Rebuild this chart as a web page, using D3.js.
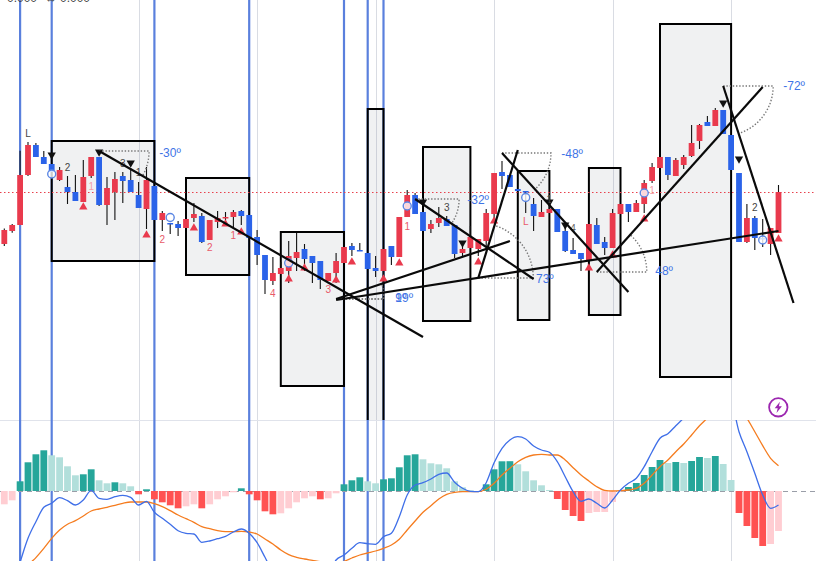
<!DOCTYPE html>
<html><head><meta charset="utf-8">
<script src="https://cdn.jsdelivr.net/npm/d3@7"></script>
<style>html,body{margin:0;padding:0;background:#fff;overflow:hidden}svg{display:block}</style>
</head><body><svg id="c" width="816" height="561"></svg>
<script>
const opens=[176,189,195,245,275,263,256,240,233,228,218,244,263,215,228,244,240,225,211,234,200,197,196,192,202,204,180,198,202,203,209,205,183,165,139,146,149,162,171,164,159,139,147,157,174,170,167,152,149,174,163,203,225,208,191,197,201,195,167,172,171,179,206,248,245,231,229,216,203,207,211,189,170,167,160,195,178,172,206,216,208,216,239,252,263,244,255,264,279,298,294,310,285,247,178,202,182,176,187];
const closes=[190,195,245,275,263,256,248,250,228,219,243,263,215,232,241,239,228,212,240,200,207,196,192,201,206,178,200,202,203,208,204,182,165,140,147,152,164,168,161,157,140,147,159,173,170,169,151,149,171,163,203,225,206,189,196,202,194,166,171,183,181,207,247,244,233,229,228,204,208,211,188,169,166,161,196,176,172,207,216,208,217,237,253,263,245,260,263,277,295,294,310,286,250,178,202,182,181,192,228];
const highs=[191.5,196,269.3,278,277,269,256,253,244,245,260,263,263,243,248,248,252,238,253,234,209,197,199,201,217,207,200,209,208,210,210,205,190,165,163,158,179,187,176,164,159,147,167,173,177,177,167,164,171,174,203,230,227,208,200,213,204,195,174,194,181,211,247,259,245,231,229,222,220,216,211,196,182,167,196,202,183,211,216,216,220,240,257,263,263,262,265,295,296,304,312,310,285,247,216,204,201,192,235];
const lows=[174,187.3,195,244,263,256,248,239,216,219,218,242,214,195,200,217,228,212,191,200,189,186,184,192,198,177,180,192,195,193,195,182,155,126,135,146,137,149,149,137,131,139,137,157,164,169,151,143,143,155,163,203,206,189,187,193,194,162,163,172,164,173,197,231,233,229,207,189,203,207,188,168,166,149,160,176,165,172,206,198,208,207,237,252,240,244,251,263,271,294,294,286,250,178,177,170,173,165,187];
const hist=[-13.3,-9.3,9.7,28.7,36.7,40.7,35.7,33.7,24.7,15.7,16.7,21.7,10.7,7.7,8.7,7.7,4.7,-3.3,1.7,-8.3,-11.3,-14.3,-17.3,-15.3,-13.3,-17.3,-13.3,-8.3,-5.3,-1.3,2.7,-3.3,-9.3,-20.3,-23.3,-22.3,-17.3,-11.3,-7.3,-5.3,-8.3,-7.3,-2.3,6.7,10.7,13.7,9.7,7.7,11.7,12.7,23.7,35.7,36.7,31.7,27.7,26.7,22.7,9.7,3.7,0.7,-0.9,6.7,21.7,29.7,29.8,26.7,19.7,10.7,5.7,1,-8,-19,-25,-30,-22,-21,-21,-11,-0.5,4,8,16,24,31,28,29,28,30,34,33,35,27,11,-22,-35,-47,-55,-53,-40];
const dif=[-105,-95,-71,-47.3,-30.7,-16.3,-12.3,-6.7,-9.7,-14,-9,0.7,-7.3,-8.3,-5.7,-4.3,-6.3,-14,-10.3,-21.3,-27.3,-33.3,-39.7,-42.3,-43,-51.3,-50,-47.7,-45.3,-41,-38,-42.3,-51.7,-66.3,-81,-88,-92,-94,-93,-92,-90,-85,-69,-64,-57.3,-51.7,-52.7,-53.3,-45.7,-42.3,-25.7,-4,6,8.3,12,16.7,18,8.7,2.7,-0.3,-0.7,8.3,28.3,42.7,51,54.3,52,45,41,38.7,29.3,14.3,-0.7,-10.3,-8,-12.3,-17,-9,1,7.7,12.7,24.3,39.3,52.7,57.3,65.3,73.3,86,96,99,101,96,90,59.3,39.3,17.7,-4,-17.3,-14];
const dea=[-125,-112,-98,-75.7,-66.7,-57.3,-47.3,-39,-33.3,-29.7,-25,-20,-18,-16.3,-14.3,-12.3,-11,-11,-11,-12.7,-15.7,-19.7,-24,-27.7,-31.3,-35.7,-37.7,-39.7,-40.7,-40.7,-40.3,-41,-43,-48,-53,-59,-63.7,-66.3,-68,-69.3,-70.7,-71.7,-71.7,-70.3,-67,-64,-62,-60,-57.3,-54,-48.3,-39,-30,-21.3,-14.7,-8,-3.3,-1.3,-0.7,-0.7,-0.7,1.7,7.7,16,22.7,29.3,33.7,36,36.7,36,36,31,23.3,16,10,4.3,0.7,0,0.3,1,2.7,7.7,16,24.3,31,39.3,47,56,65.3,73,81,86,89,83,72.7,59.3,45.3,32.7,25.3];
const blueBars=[2,6,19,31,43,46,48];
const gridBars=[17,32,47,62,77,92];
const boxes=[[6,19,279,159],[23,31,242,145],[35,43,188,34],[46,48,311,-10],[53,59,273,99],[65,69,249,100],[74,78,252,105],[83,92,396,43]];
const trends=[[12,269,53,83],[42,121,64,179],[42,120,98,189],[52,221,67,141],[60,142,65,270],[63,267,79,128],[75,148,96,333],[91,334,99.9,117]];
const angleMarks=[[12,269,50,-30],[42,121,48,19],[42,121,48,9],[52,221,44,-32],[60,142,55,73],[63,267,49,-48],[75,148,50,48],[91,334,50,-72]];
const angleLabels=[["-30º",19.6,267],["19º",49.5,122],["9º",49.5,122],["-32º",58.6,220],["73º",67.3,141],["-48º",70.5,266],["48º",82.4,149],["-72º",98.6,334]];
const upMarks=[[10,213],[18,185],[24,192],[28,196],[30,188],[36,141],[38,152],[42,140],[44,158],[48,141],[50,157],[60,158],[62,199],[74,152],[77,165],[81,201],[98,181]];
const downMarks=[[6,265],[12,268],[16,257],[53,218],[58,177],[69,218],[71,195],[91,317],[93,261]];
const circleBars=[[6,246],[21,202.5],[36,157],[51,214],[66,222.5],[81,227],[96,180]];
const waveLabels=[["L",3,287,"#444"],["2",8,253,"#444"],["3",15,257,"#444"],["1",17,248,"#444"],["3",56,213,"#444"],["1",69,221,"#444"],["4",72,192,"#666"],["2",95,213,"#444"],
["1",11,234,"#f2a0aa"],["2",20,181,"#e85a6a"],["2",26,173,"#e85a6a"],["1",29,185,"#e85a6a"],["4",34,127,"#e85a6a"],["3",41,131,"#e85a6a"],["1",51,194,"#e85a6a"],["L",66,199,"#e85a6a"],["1",82,230,"#f2a0aa"]];

const W=816,H=561,paneY=420;
const x=d3.scaleLinear().domain([0,98]).range([4.3,778.5]);
const y=d3.scaleLinear().domain([0,420]).range([420,0]);
const m=d3.scaleLinear().domain([-70,71]).range([561,420]);
const svg=d3.select("#c");
const defs=svg.append("defs");
defs.append("clipPath").attr("id","topClip").append("rect").attr("width",W).attr("height",paneY);
defs.append("clipPath").attr("id","botClip").append("rect").attr("y",paneY).attr("width",W).attr("height",H-paneY);
const font="'Liberation Sans',Arial,sans-serif";

svg.append("g").selectAll("line").data(gridBars).join("line")
 .attr("x1",d=>Math.round(x(d))+.5).attr("x2",d=>Math.round(x(d))+.5).attr("y1",0).attr("y2",H)
 .attr("stroke","#d9dce3").attr("stroke-width",1);
svg.append("line").attr("x1",0).attr("x2",W).attr("y1",paneY+.5).attr("y2",paneY+.5).attr("stroke","#e0e3eb");
svg.append("g").selectAll("line").data(blueBars).join("line")
 .attr("x1",d=>x(d)).attr("x2",d=>x(d)).attr("y1",0).attr("y2",H)
 .attr("stroke","#5a80dd").attr("stroke-width",2.2);

const pane=svg.append("g").attr("clip-path","url(#topClip)");
pane.append("g").selectAll("rect").data(boxes).join("rect")
 .attr("x",d=>x(d[0])).attr("width",d=>x(d[1])-x(d[0]))
 .attr("y",d=>y(d[2])).attr("height",d=>y(d[3])-y(d[2]))
 .attr("fill","rgba(120,123,134,0.11)").attr("stroke","#000").attr("stroke-width",2);
pane.append("line").attr("x1",0).attr("x2",W).attr("y1",192.5).attr("y2",192.5)
 .attr("stroke","#e8404c").attr("stroke-width",1).attr("stroke-dasharray","1.5 2.5");

const RED="#e93a4d",BLUE="#2b63e9";
const cg=pane.append("g");
opens.forEach((o,i)=>{
  const c=closes[i],col=c>=o?RED:BLUE,g=cg.append("g");
  g.append("line").attr("x1",x(i)).attr("x2",x(i)).attr("y1",y(highs[i])).attr("y2",y(lows[i])).attr("stroke","#111").attr("stroke-width",1.1);
  g.append("rect").attr("x",x(i)-2.9).attr("width",5.8).attr("y",y(Math.max(o,c))).attr("height",Math.max(1.5,Math.abs(y(o)-y(c)))).attr("fill",col);
});

const tri=d3.symbol().type(d3.symbolTriangle).size(30);
pane.append("g").selectAll("path").data(upMarks).join("path").attr("d",tri)
 .attr("transform",d=>`translate(${x(d[0])},${y(d[1])})`).attr("fill","#e93a4d");
pane.append("g").selectAll("path").data(downMarks).join("path").attr("d",tri)
 .attr("transform",d=>`translate(${x(d[0])},${y(d[1])}) rotate(180)`).attr("fill","#111");
pane.append("g").selectAll("text").data(waveLabels).join("text").text(d=>d[0])
 .attr("x",d=>x(d[1])).attr("y",d=>y(d[2])+3.5).attr("text-anchor","middle")
 .attr("font-family",font).attr("font-size",10).attr("fill",d=>d[3]);
pane.append("g").selectAll("circle").data(circleBars).join("circle")
 .attr("cx",d=>x(d[0])).attr("cy",d=>y(d[1])).attr("r",4)
 .attr("fill","#fff").attr("fill-opacity",.8).attr("stroke","#5b86e3").attr("stroke-width",1.4);

pane.append("g").selectAll("path").data(angleMarks).join("path")
 .attr("d",d=>{
   const x0=x(d[0]),y0=y(d[1]),r=d[2],a=d[3]*Math.PI/180;
   const ex=x0+r*Math.cos(a),ey=y0-r*Math.sin(a);
   return `M${x0},${y0}L${x0+r},${y0}A${r},${r} 0 0 ${a>0?0:1} ${ex},${ey}`;
 })
 .attr("fill","none").attr("stroke","#777").attr("stroke-width",1.4).attr("stroke-dasharray","1.4 1.8");
pane.append("g").selectAll("line").data(trends).join("line")
 .attr("x1",d=>x(d[0])).attr("y1",d=>y(d[1])).attr("x2",d=>x(d[2])).attr("y2",d=>y(d[3]))
 .attr("stroke","#0a0a0a").attr("stroke-width",2.2);
pane.append("g").selectAll("text").data(angleLabels).join("text").text(d=>d[0])
 .attr("x",d=>x(d[1])).attr("y",d=>y(d[2])+4).attr("font-family",font).attr("font-size",12)
 .attr("fill","#3f74e6");

// MACD pane
const bot=svg.append("g").attr("clip-path","url(#botClip)");
bot.append("line").attr("x1",0).attr("x2",W).attr("y1",m(0)+.5).attr("y2",m(0)+.5)
 .attr("stroke","#9a9ea8").attr("stroke-dasharray","5 4");
const hcol=(v,i)=>{const p=i?hist[i-1]:-15;return v>=0?(v>p?"#26a69a":"#b2dfdb"):(v<p?"#ff5252":"#ffcdd2");};
bot.append("g").selectAll("rect").data(hist).join("rect")
 .attr("x",(d,i)=>x(i)-3.4).attr("width",6.8)
 .attr("y",d=>m(Math.max(d,0))).attr("height",d=>Math.abs(m(d)-m(0)))
 .attr("fill",hcol);
const ln=d3.line().curve(d3.curveMonotoneX).x((d,i)=>x(i)).y(d=>m(d));
bot.append("path").attr("d",ln(dea)).attr("fill","none").attr("stroke","#f57c1f").attr("stroke-width",1.3);
bot.append("path").attr("d",ln(dif)).attr("fill","none").attr("stroke","#3f6fe8").attr("stroke-width",1.3);

// header text, clipped by the top of the page
svg.append("text").text("0.000").attr("x",7).attr("y",2).attr("font-family",font).attr("font-size",12).attr("fill","#444");
svg.append("text").text("↔").attr("x",45).attr("y",2).attr("font-family",font).attr("font-size",12).attr("fill","#444");
svg.append("text").text("0.000").attr("x",60).attr("y",2).attr("font-family",font).attr("font-size",12).attr("fill","#444");

// lightning badge
const b=svg.append("g").attr("transform","translate(778.3,407.3)");
b.append("circle").attr("r",9.2).attr("fill","#fff").attr("stroke","#9c27b0").attr("stroke-width",1.8);
b.append("path").attr("d","M1.6,-5.6L-3.6,1L-0.6,1L-1.8,5.6L3.6,-1L0.6,-1Z").attr("fill","#9c27b0");
</script></body></html>
